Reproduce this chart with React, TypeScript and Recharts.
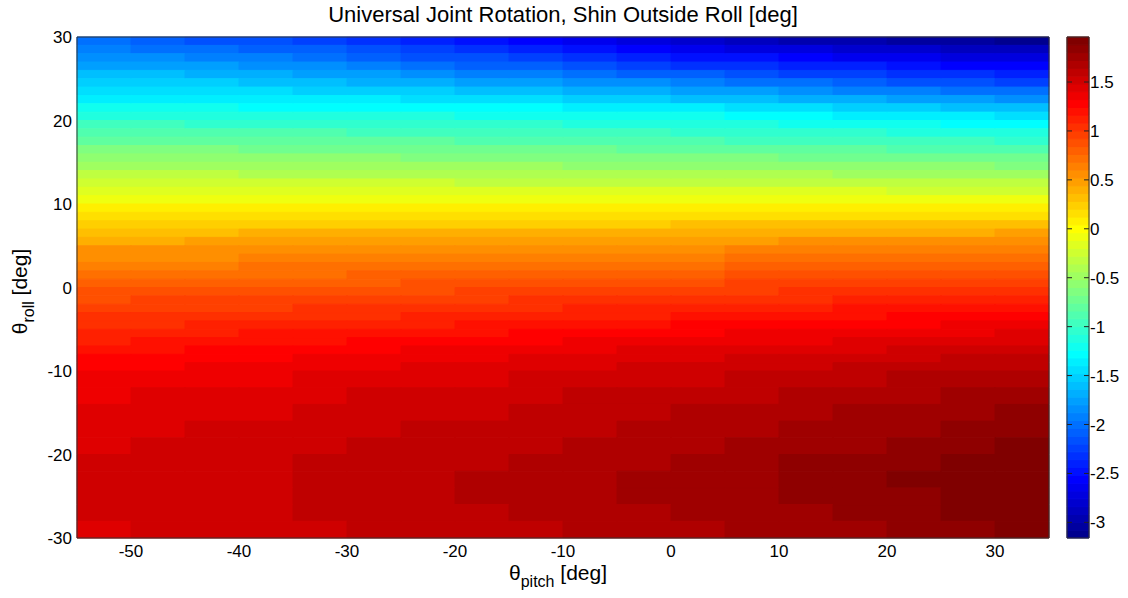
import React from 'react';
import { ComposedChart, XAxis, YAxis, ReferenceArea, Scatter } from 'recharts';

// cell edges of the grid (pitch left->right, roll top->bottom)
const pitchEdges = [-55, -50, -45, -40, -35, -30, -25, -20, -15, -10, -5, 0, 5, 10, 15, 20, 25, 30, 35];
const rollEdges = [
  30, 29, 28, 27, 26, 25, 24, 23, 22, 21, 20, 19, 18, 17, 16, 15, 14, 13, 12, 11, 10,
  9, 8, 7, 6, 5, 4, 3, 2, 1, 0, -1, -2, -3, -4, -5, -6, -7, -8, -9, -10,
  -12, -14, -16, -18, -20, -22, -24, -26, -28, -30,
];

// shin outside roll [deg], one row per roll cell (top first), one value per pitch cell
const shinRoll: number[][] = [
  [-2.03, -2.08, -2.13, -2.18, -2.24, -2.32, -2.4, -2.49, -2.59, -2.68, -2.75, -2.82, -2.88, -2.93, -2.98, -3.02, -3.06, -3.09],
  [-1.93, -1.97, -2.01, -2.06, -2.12, -2.19, -2.26, -2.35, -2.43, -2.51, -2.57, -2.64, -2.7, -2.75, -2.8, -2.84, -2.88, -2.91],
  [-1.83, -1.86, -1.9, -1.94, -1.99, -2.06, -2.13, -2.2, -2.27, -2.34, -2.4, -2.46, -2.51, -2.56, -2.61, -2.66, -2.7, -2.74],
  [-1.73, -1.75, -1.78, -1.82, -1.87, -1.92, -1.99, -2.05, -2.11, -2.17, -2.23, -2.29, -2.34, -2.39, -2.44, -2.49, -2.53, -2.57],
  [-1.63, -1.64, -1.67, -1.7, -1.74, -1.79, -1.84, -1.9, -1.95, -2.0, -2.06, -2.12, -2.17, -2.22, -2.27, -2.32, -2.36, -2.4],
  [-1.53, -1.54, -1.56, -1.58, -1.62, -1.66, -1.7, -1.75, -1.79, -1.84, -1.88, -1.94, -1.99, -2.04, -2.09, -2.13, -2.18, -2.22],
  [-1.43, -1.43, -1.45, -1.47, -1.49, -1.53, -1.56, -1.6, -1.63, -1.67, -1.71, -1.75, -1.8, -1.85, -1.9, -1.94, -1.99, -2.03],
  [-1.33, -1.33, -1.34, -1.36, -1.37, -1.4, -1.42, -1.45, -1.47, -1.5, -1.53, -1.57, -1.62, -1.65, -1.7, -1.74, -1.79, -1.82],
  [-1.23, -1.23, -1.23, -1.25, -1.25, -1.27, -1.28, -1.3, -1.31, -1.33, -1.35, -1.38, -1.43, -1.46, -1.5, -1.53, -1.58, -1.61],
  [-1.12, -1.12, -1.12, -1.13, -1.14, -1.15, -1.16, -1.17, -1.18, -1.19, -1.21, -1.24, -1.27, -1.3, -1.34, -1.36, -1.4, -1.43],
  [-1.0, -1.0, -1.01, -1.02, -1.03, -1.04, -1.05, -1.06, -1.07, -1.09, -1.11, -1.13, -1.16, -1.18, -1.21, -1.23, -1.25, -1.28],
  [-0.88, -0.88, -0.9, -0.91, -0.92, -0.93, -0.94, -0.96, -0.97, -0.99, -1.0, -1.02, -1.04, -1.06, -1.08, -1.1, -1.12, -1.14],
  [-0.77, -0.78, -0.79, -0.8, -0.81, -0.82, -0.83, -0.85, -0.86, -0.88, -0.89, -0.91, -0.93, -0.94, -0.96, -0.98, -0.99, -1.01],
  [-0.66, -0.67, -0.68, -0.69, -0.7, -0.71, -0.73, -0.74, -0.75, -0.76, -0.77, -0.79, -0.81, -0.82, -0.84, -0.85, -0.86, -0.88],
  [-0.55, -0.56, -0.57, -0.58, -0.59, -0.6, -0.62, -0.63, -0.64, -0.65, -0.66, -0.67, -0.68, -0.69, -0.7, -0.72, -0.73, -0.75],
  [-0.45, -0.46, -0.47, -0.48, -0.49, -0.49, -0.5, -0.51, -0.52, -0.53, -0.54, -0.55, -0.56, -0.57, -0.58, -0.59, -0.6, -0.61],
  [-0.35, -0.35, -0.36, -0.37, -0.38, -0.39, -0.39, -0.4, -0.41, -0.41, -0.42, -0.43, -0.43, -0.44, -0.45, -0.46, -0.47, -0.48],
  [-0.25, -0.25, -0.26, -0.26, -0.27, -0.28, -0.28, -0.29, -0.29, -0.29, -0.3, -0.31, -0.31, -0.32, -0.32, -0.33, -0.33, -0.34],
  [-0.15, -0.15, -0.15, -0.16, -0.16, -0.17, -0.17, -0.18, -0.18, -0.18, -0.18, -0.19, -0.19, -0.19, -0.2, -0.21, -0.21, -0.21],
  [-0.05, -0.05, -0.05, -0.06, -0.06, -0.06, -0.06, -0.07, -0.07, -0.07, -0.07, -0.07, -0.07, -0.07, -0.07, -0.08, -0.08, -0.08],
  [0.05, 0.05, 0.05, 0.05, 0.05, 0.05, 0.05, 0.05, 0.05, 0.05, 0.05, 0.05, 0.05, 0.05, 0.05, 0.06, 0.06, 0.06],
  [0.15, 0.15, 0.15, 0.15, 0.15, 0.15, 0.16, 0.16, 0.16, 0.16, 0.16, 0.17, 0.17, 0.17, 0.17, 0.18, 0.18, 0.19],
  [0.25, 0.25, 0.25, 0.26, 0.26, 0.26, 0.27, 0.27, 0.27, 0.27, 0.27, 0.28, 0.28, 0.29, 0.3, 0.3, 0.31, 0.32],
  [0.35, 0.35, 0.35, 0.36, 0.36, 0.36, 0.37, 0.37, 0.37, 0.38, 0.38, 0.39, 0.4, 0.41, 0.42, 0.42, 0.43, 0.44],
  [0.43, 0.43, 0.44, 0.44, 0.45, 0.45, 0.46, 0.46, 0.47, 0.48, 0.49, 0.5, 0.51, 0.52, 0.53, 0.53, 0.54, 0.55],
  [0.52, 0.52, 0.53, 0.53, 0.54, 0.54, 0.55, 0.55, 0.56, 0.57, 0.58, 0.59, 0.6, 0.61, 0.62, 0.63, 0.64, 0.65],
  [0.58, 0.59, 0.59, 0.6, 0.61, 0.62, 0.62, 0.63, 0.64, 0.65, 0.66, 0.67, 0.68, 0.7, 0.71, 0.72, 0.73, 0.74],
  [0.66, 0.67, 0.67, 0.68, 0.69, 0.7, 0.7, 0.71, 0.72, 0.73, 0.74, 0.75, 0.76, 0.78, 0.79, 0.8, 0.81, 0.82],
  [0.72, 0.73, 0.74, 0.74, 0.75, 0.76, 0.77, 0.78, 0.79, 0.81, 0.82, 0.83, 0.84, 0.86, 0.87, 0.88, 0.9, 0.91],
  [0.79, 0.8, 0.81, 0.81, 0.82, 0.83, 0.84, 0.85, 0.86, 0.88, 0.89, 0.91, 0.92, 0.94, 0.95, 0.96, 0.98, 0.99],
  [0.85, 0.86, 0.87, 0.88, 0.89, 0.9, 0.91, 0.92, 0.94, 0.95, 0.96, 0.98, 0.99, 1.0, 1.02, 1.03, 1.05, 1.06],
  [0.91, 0.92, 0.93, 0.94, 0.95, 0.96, 0.97, 0.98, 1.0, 1.02, 1.03, 1.05, 1.06, 1.07, 1.09, 1.1, 1.12, 1.13],
  [0.96, 0.97, 0.97, 0.99, 1.0, 1.01, 1.03, 1.04, 1.06, 1.08, 1.09, 1.11, 1.12, 1.14, 1.16, 1.17, 1.19, 1.21],
  [1.01, 1.02, 1.03, 1.05, 1.06, 1.07, 1.09, 1.1, 1.12, 1.14, 1.15, 1.17, 1.19, 1.21, 1.22, 1.24, 1.26, 1.28],
  [1.06, 1.07, 1.08, 1.1, 1.12, 1.14, 1.15, 1.17, 1.19, 1.21, 1.22, 1.24, 1.26, 1.28, 1.29, 1.31, 1.33, 1.35],
  [1.11, 1.13, 1.14, 1.16, 1.18, 1.2, 1.21, 1.23, 1.25, 1.27, 1.28, 1.3, 1.32, 1.34, 1.35, 1.37, 1.39, 1.41],
  [1.15, 1.17, 1.19, 1.21, 1.22, 1.24, 1.26, 1.28, 1.3, 1.32, 1.34, 1.36, 1.38, 1.39, 1.41, 1.43, 1.45, 1.47],
  [1.2, 1.22, 1.24, 1.26, 1.28, 1.3, 1.32, 1.34, 1.36, 1.38, 1.4, 1.42, 1.44, 1.45, 1.47, 1.49, 1.51, 1.53],
  [1.25, 1.27, 1.29, 1.31, 1.33, 1.35, 1.37, 1.39, 1.41, 1.43, 1.45, 1.47, 1.49, 1.5, 1.52, 1.54, 1.56, 1.57],
  [1.29, 1.31, 1.33, 1.35, 1.37, 1.38, 1.4, 1.42, 1.44, 1.46, 1.48, 1.5, 1.53, 1.55, 1.57, 1.59, 1.61, 1.62],
  [1.34, 1.36, 1.37, 1.39, 1.41, 1.42, 1.44, 1.46, 1.48, 1.5, 1.52, 1.54, 1.57, 1.59, 1.61, 1.64, 1.66, 1.68],
  [1.39, 1.41, 1.42, 1.44, 1.46, 1.48, 1.5, 1.52, 1.54, 1.56, 1.58, 1.61, 1.63, 1.65, 1.68, 1.7, 1.73, 1.75],
  [1.42, 1.44, 1.46, 1.47, 1.49, 1.51, 1.53, 1.55, 1.57, 1.6, 1.62, 1.64, 1.67, 1.69, 1.72, 1.74, 1.77, 1.8],
  [1.45, 1.47, 1.48, 1.5, 1.52, 1.54, 1.56, 1.58, 1.6, 1.62, 1.65, 1.67, 1.7, 1.73, 1.76, 1.78, 1.81, 1.84],
  [1.47, 1.49, 1.5, 1.52, 1.54, 1.56, 1.58, 1.6, 1.62, 1.64, 1.67, 1.7, 1.73, 1.76, 1.79, 1.82, 1.85, 1.88],
  [1.49, 1.51, 1.52, 1.54, 1.56, 1.58, 1.6, 1.63, 1.65, 1.67, 1.7, 1.73, 1.77, 1.8, 1.83, 1.86, 1.89, 1.92],
  [1.5, 1.52, 1.53, 1.55, 1.58, 1.6, 1.62, 1.65, 1.67, 1.69, 1.72, 1.75, 1.79, 1.82, 1.85, 1.88, 1.91, 1.94],
  [1.5, 1.51, 1.53, 1.55, 1.57, 1.59, 1.62, 1.64, 1.66, 1.69, 1.72, 1.75, 1.78, 1.81, 1.84, 1.87, 1.9, 1.93],
  [1.48, 1.5, 1.52, 1.54, 1.56, 1.58, 1.6, 1.63, 1.65, 1.67, 1.7, 1.73, 1.76, 1.79, 1.82, 1.85, 1.88, 1.91],
  [1.46, 1.48, 1.5, 1.52, 1.54, 1.56, 1.59, 1.61, 1.63, 1.66, 1.69, 1.71, 1.74, 1.76, 1.79, 1.82, 1.85, 1.88],
];

const xTicks = [-50, -40, -30, -20, -10, 0, 10, 20, 30];
const yTicks = [-30, -20, -10, 0, 10, 20, 30];
const colorTicks = [-3, -2.5, -2, -1.5, -1, -0.5, 0, 0.5, 1, 1.5];
const colorLimits = [-3.16, 1.96];

const NUM_COLORS = 64;
const [cMin, cMax] = colorLimits;

// matlab jet(64), k is 0-based
const jet = (k: number) => {
  const i = k + 1;
  let r = 0, g = 0, b = 0;
  if (i >= 25 && i <= 40) r = (i - 24) / 16;
  else if (i > 40 && i <= 56) r = 1;
  else if (i > 56) r = 1 - (i - 56) / 16;
  if (i >= 9 && i <= 24) g = (i - 8) / 16;
  else if (i > 24 && i <= 40) g = 1;
  else if (i > 40 && i <= 56) g = 1 - (i - 40) / 16;
  if (i <= 8) b = (i + 8) / 16;
  else if (i <= 24) b = 1;
  else if (i <= 39) b = 1 - (i - 24) / 16;
  return `rgb(${Math.round(r * 255)},${Math.round(g * 255)},${Math.round(b * 255)})`;
};

const levelOf = (v: number) =>
  Math.min(NUM_COLORS - 1, Math.max(0, Math.floor(((v - cMin) / (cMax - cMin)) * NUM_COLORS)));

const FONT = '"Liberation Sans", Arial, Helvetica, sans-serif';
const TICK_FONT = 17;

const PitchLabel = (props: any) => {
  const vb = props.viewBox || { x: 77, y: 538, width: 972, height: 30 };
  const cx = vb.x + vb.width / 2 - 5;
  const cy = vb.y + 42;
  return (
    <text x={cx} y={cy} textAnchor="middle" fontSize={21} fill="#000" fontFamily={FONT}>
      θ
      <tspan fontSize={16} dy={7}>pitch</tspan>
      <tspan fontSize={21} dy={-7}> [deg]</tspan>
    </text>
  );
};

const RollLabel = (props: any) => {
  const vb = props.viewBox || { x: 17, y: 37, width: 60, height: 502 };
  const cx = vb.x + 10;
  const cy = vb.y + vb.height / 2 + 4;
  return (
    <text x={cx} y={cy} textAnchor="middle" fontSize={21} fill="#000" fontFamily={FONT} transform={`rotate(-90, ${cx}, ${cy})`}>
      θ
      <tspan fontSize={16} dy={7}>roll</tspan>
      <tspan fontSize={21} dy={-7}> [deg]</tspan>
    </text>
  );
};

const ColorTick = (props: any) => {
  const { x, y, payload } = props;
  const right = x - 1;
  return (
    <g>
      <line x1={right - 22} x2={right - 17} y1={y} y2={y} stroke="#222" />
      <line x1={right - 5} x2={right} y1={y} y2={y} stroke="#222" />
      <text x={x} y={y} dy="0.355em" textAnchor="start" fontSize={TICK_FONT} fill="#000" fontFamily={FONT}>
        {payload.value}
      </text>
    </g>
  );
};

const corners = [
  { x: -55, y: -30 },
  { x: 35, y: 30 },
];

const App = () => {
  const cells: React.ReactNode[] = [];
  shinRoll.forEach((row, i) => {
    row.forEach((v, j) => {
      const color = jet(levelOf(v));
      cells.push(
        <ReferenceArea
          key={`c-${i}-${j}`}
          x1={pitchEdges[j]}
          x2={pitchEdges[j + 1]}
          y1={rollEdges[i + 1]}
          y2={rollEdges[i]}
          fill={color}
          fillOpacity={1}
          stroke={color}
          strokeWidth={1}
          strokeOpacity={1}
          ifOverflow="visible"
        />
      );
    });
  });

  const bands: React.ReactNode[] = [];
  for (let k = 0; k < NUM_COLORS; k++) {
    const lo = cMin + ((cMax - cMin) * k) / NUM_COLORS;
    const hi = cMin + ((cMax - cMin) * (k + 1)) / NUM_COLORS;
    bands.push(
      <ReferenceArea key={`b-${k}`} x1={0} x2={1} y1={lo} y2={hi} fill={jet(k)} fillOpacity={1} stroke={jet(k)} strokeWidth={1} ifOverflow="visible" />
    );
  }

  return (
    <div style={{ position: 'absolute', left: 0, top: 0, width: 1128, height: 598, background: '#fff', fontFamily: FONT }}>
      <div style={{ position: 'absolute', left: 77, top: 4, width: 972, textAlign: 'center', fontSize: 22, lineHeight: '22px', color: '#000' }}>
        Universal Joint Rotation, Shin Outside Roll [deg]
      </div>

      <div style={{ position: 'absolute', left: 0, top: 0 }}>
        <ComposedChart width={1128} height={598} margin={{ top: 37, right: 79, bottom: 30, left: 17 }}>
          {cells}
          <ReferenceArea x1={-55} x2={35} y1={-30} y2={30} fill="none" fillOpacity={0} stroke="#333" strokeWidth={1} ifOverflow="visible" />
          <Scatter data={corners} dataKey="y" isAnimationActive={false} shape={() => <g />} />
          <XAxis
            type="number"
            dataKey="x"
            domain={[-55, 35]}
            ticks={xTicks}
            interval={0}
            allowDataOverflow
            axisLine={false}
            tickLine={false}
            tickSize={5}
            tickMargin={2}
            height={30}
            tick={{ fontSize: TICK_FONT, fill: '#000' }}
            label={<PitchLabel />}
          />
          <YAxis
            type="number"
            dataKey="y"
            domain={[-30, 30]}
            ticks={yTicks}
            interval={0}
            allowDataOverflow
            axisLine={false}
            tickLine={false}
            tickSize={3}
            tickMargin={2}
            width={60}
            tick={{ fontSize: TICK_FONT, fill: '#000' }}
            label={<RollLabel />}
          />
        </ComposedChart>
      </div>

      <div style={{ position: 'absolute', left: 1040, top: 0 }}>
        <ComposedChart width={88} height={598} margin={{ top: 37, right: 0, bottom: 60, left: 27 }}>
          {bands}
          <ReferenceArea x1={0} x2={1} y1={cMin} y2={cMax} fill="none" fillOpacity={0} stroke="#333" strokeWidth={1} ifOverflow="visible" />
          <Scatter data={[{ x: 0, y: cMin }, { x: 1, y: cMax }]} dataKey="y" isAnimationActive={false} shape={() => <g />} />
          <XAxis type="number" dataKey="x" domain={[0, 1]} hide />
          <YAxis
            type="number"
            dataKey="y"
            orientation="right"
            domain={colorLimits}
            ticks={colorTicks}
            interval={0}
            allowDataOverflow
            axisLine={false}
            tickLine={false}
            tickSize={0}
            tickMargin={1}
            width={39}
            tick={<ColorTick />}
          />
        </ComposedChart>
      </div>
    </div>
  );
};

export default App;
